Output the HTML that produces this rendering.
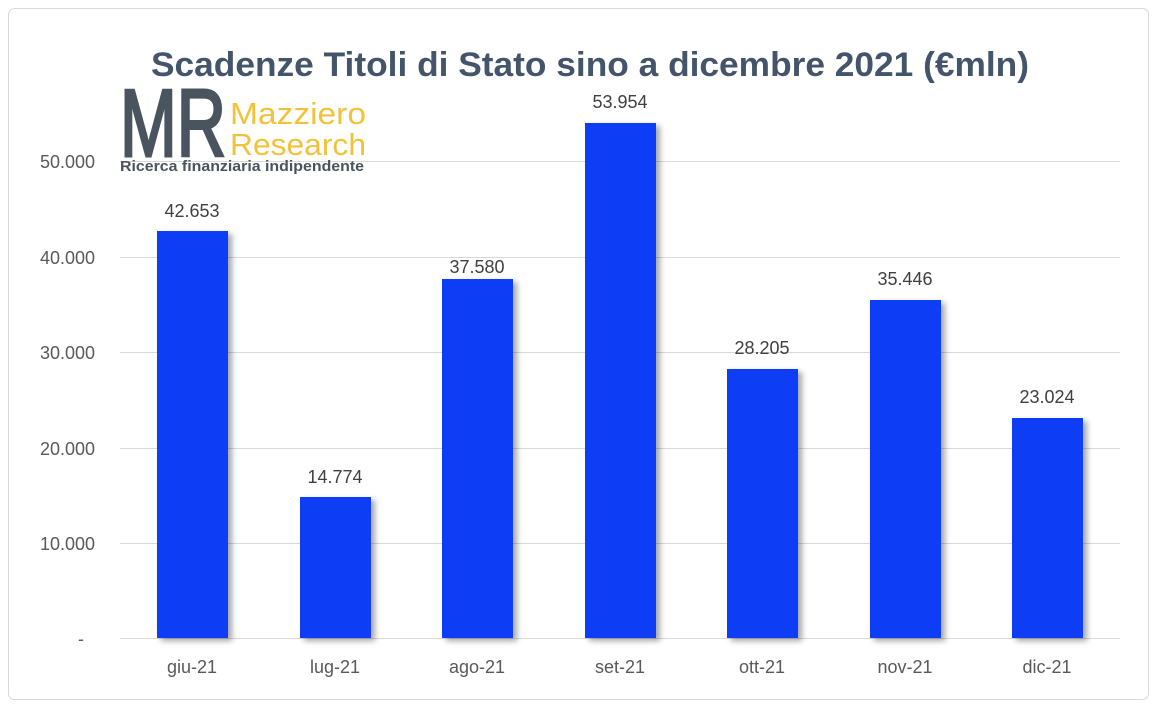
<!DOCTYPE html>
<html><head><meta charset="utf-8"><style>
body{margin:0;background:#fff;}
svg{display:block;font-family:"Liberation Sans",sans-serif;}
</style></head><body>
<svg width="1160" height="710" viewBox="0 0 1160 710">
<defs><filter id="sh" x="-10%" y="-10%" width="130%" height="120%"><feDropShadow dx="4" dy="3" stdDeviation="3" flood-color="#000" flood-opacity="0.35"/></filter></defs>
<rect x="8.5" y="8.5" width="1140" height="691" rx="6" fill="#fff" stroke="#d9d9d9"/>
<text x="151" y="76" font-size="34" font-weight="bold" fill="#44546a" textLength="878" lengthAdjust="spacingAndGlyphs">Scadenze Titoli di Stato sino a dicembre 2021 (€mln)</text>
<g stroke="#d9d9d9" stroke-width="1">
<line x1="120" x2="1120" y1="161.5" y2="161.5"/>
<line x1="120" x2="1120" y1="257.5" y2="257.5"/>
<line x1="120" x2="1120" y1="352.5" y2="352.5"/>
<line x1="120" x2="1120" y1="448.5" y2="448.5"/>
<line x1="120" x2="1120" y1="543.5" y2="543.5"/>
<line x1="120" x2="1120" y1="638.5" y2="638.5"/>
</g>
<g font-size="18" fill="#595959" text-anchor="end">
<text x="95" y="168">50.000</text><text x="95" y="264">40.000</text><text x="95" y="359">30.000</text>
<text x="95" y="455">20.000</text><text x="95" y="550">10.000</text><text x="84" y="645">-</text>
</g>
<g fill="#0a3cf5" filter="url(#sh)">
<rect x="157" y="231" width="71" height="407"/>
<rect x="300" y="497" width="71" height="141"/>
<rect x="442" y="279" width="71" height="359"/>
<rect x="585" y="123" width="71" height="515"/>
<rect x="727" y="369" width="71" height="269"/>
<rect x="870" y="300" width="71" height="338"/>
<rect x="1012" y="418" width="71" height="220"/>
</g>
<g font-size="18" fill="#404040" text-anchor="middle">
<text x="192" y="217">42.653</text><text x="335" y="483">14.774</text><text x="477" y="273">37.580</text>
<text x="620" y="108">53.954</text><text x="762" y="354">28.205</text><text x="905" y="285">35.446</text><text x="1047" y="403">23.024</text>
</g>
<g font-size="18" fill="#595959" text-anchor="middle">
<text x="192" y="673">giu-21</text><text x="335" y="673">lug-21</text><text x="477" y="673">ago-21</text>
<text x="620" y="673">set-21</text><text x="762" y="673">ott-21</text><text x="905" y="673">nov-21</text><text x="1047" y="673">dic-21</text>
</g>
<text x="120" y="156" font-size="96" fill="#4a545e" stroke="#4a545e" stroke-width="3" textLength="106" lengthAdjust="spacingAndGlyphs">MR</text>
<text x="230" y="124" font-size="31" fill="#f2c23a" textLength="136" lengthAdjust="spacingAndGlyphs">Mazziero</text>
<text x="230" y="155" font-size="31" fill="#f2c23a" textLength="136" lengthAdjust="spacingAndGlyphs">Research</text>
<text x="120" y="171" font-size="15" font-weight="bold" fill="#4a545e" textLength="244" lengthAdjust="spacingAndGlyphs">Ricerca finanziaria indipendente</text>
</svg>
</body></html>
